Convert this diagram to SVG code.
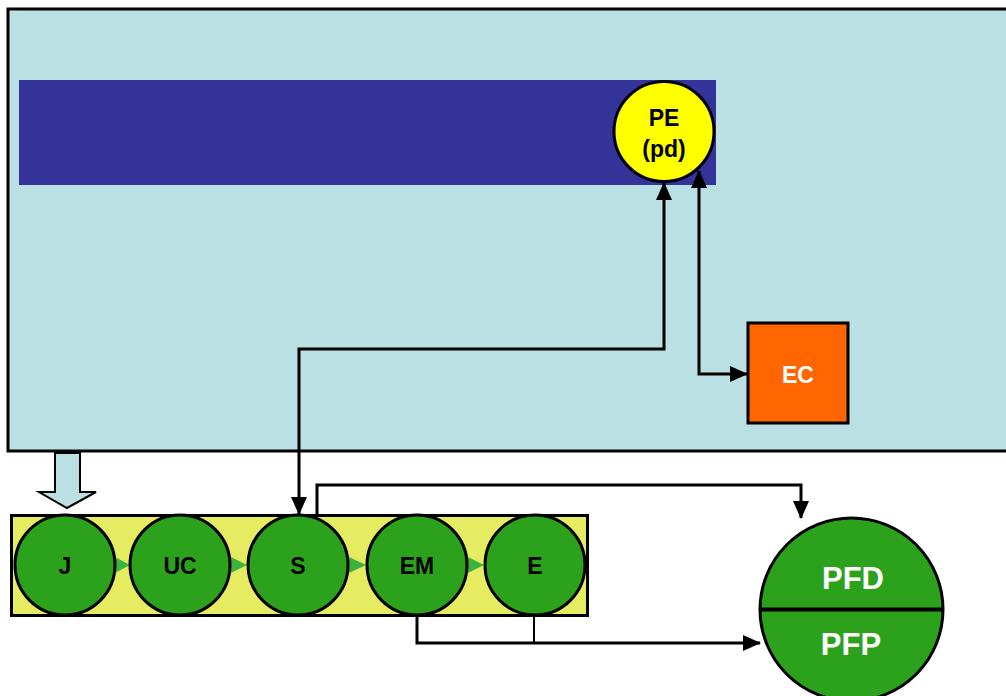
<svg xmlns="http://www.w3.org/2000/svg" width="1006" height="696" viewBox="0 0 1006 696">
<style>
.lbl{font-family:"Liberation Sans",Arial,sans-serif;font-weight:bold;text-anchor:middle;dominant-baseline:central}
.stage{fill:#2CA21C;stroke:#000;stroke-width:3}
.conn{fill:none;stroke:#000;stroke-width:3}
.tri{fill:#3CB43C}
</style>
<defs>
<marker id="ah" markerUnits="userSpaceOnUse" markerWidth="18" markerHeight="16" viewBox="0 0 18 16" refX="17" refY="8" orient="auto-start-reverse">
<path d="M0,0 L18,8 L0,16 Z" fill="#000"/>
</marker>
</defs>
<g id="background">
<rect x="8" y="9" width="1010" height="442" fill="#BAE0E3" stroke="#000" stroke-width="3"/>
<rect x="19" y="80" width="697" height="105" fill="#333399"/>
</g>
<g id="block-arrow">
<polygon points="55,453 80,453 80,492 96,492 67,508 39,492 55,492" fill="#BAE0E3" stroke="#000" stroke-width="2"/>
</g>
<g id="chain">
<rect x="11.5" y="515.5" width="576" height="100" fill="#E6EC62" stroke="#000" stroke-width="3"/>
<polygon class="tri" points="115,557 130,565 115,573"/>
<polygon class="tri" points="231,557 247,565 231,573"/>
<polygon class="tri" points="349,557 366,565 349,573"/>
<polygon class="tri" points="468,557 484,565 468,573"/>
</g>
<g id="node-J"><circle class="stage" cx="65" cy="565" r="50"/><text class="lbl" x="65" y="566" font-size="23">J</text></g>
<g id="node-UC"><circle class="stage" cx="180" cy="565" r="50"/><text class="lbl" x="180" y="566" font-size="23">UC</text></g>
<g id="node-S"><circle class="stage" cx="298" cy="565" r="50"/><text class="lbl" x="298" y="566" font-size="23">S</text></g>
<g id="node-EM"><circle class="stage" cx="417" cy="565" r="50"/><text class="lbl" x="417" y="566" font-size="23">EM</text></g>
<g id="node-E"><circle class="stage" cx="535" cy="565" r="50"/><text class="lbl" x="535" y="566" font-size="23">E</text></g>
<g id="node-PE">
<circle cx="664" cy="131.5" r="50" fill="#FFFF00" stroke="#000" stroke-width="3"/>
<text class="lbl" x="664" y="118" font-size="23">PE</text>
<text class="lbl" x="664" y="149" font-size="23">(pd)</text>
</g>
<g id="node-EC">
<rect x="748" y="323" width="100" height="100" fill="#FF6600" stroke="#000" stroke-width="3"/>
<text class="lbl" x="798" y="375" font-size="23" fill="#FFF">EC</text>
</g>
<g id="node-PF">
<circle cx="851.5" cy="609.5" r="91.5" fill="#2CA21C" stroke="#000" stroke-width="3"/>
<line x1="760" y1="609.5" x2="943" y2="609.5" stroke="#000" stroke-width="4"/>
<text class="lbl" x="853" y="578" font-size="31" fill="#FFF">PFD</text>
<text class="lbl" x="851" y="644" font-size="31" fill="#FFF">PFP</text>
</g>
<g id="connectors">
<polyline class="conn" points="299,514 299,349 664,349 664,183" marker-start="url(#ah)" marker-end="url(#ah)"/>
<polyline class="conn" points="699,171 699,374 747,374" marker-start="url(#ah)" marker-end="url(#ah)"/>
<polyline class="conn" points="317,516 317,485 801,485 801,518" marker-end="url(#ah)"/>
<polyline class="conn" points="417,615 417,643 760,643" marker-end="url(#ah)"/>
<line x1="534" y1="615" x2="534" y2="643" stroke="#000" stroke-width="2"/>
</g>
</svg>
